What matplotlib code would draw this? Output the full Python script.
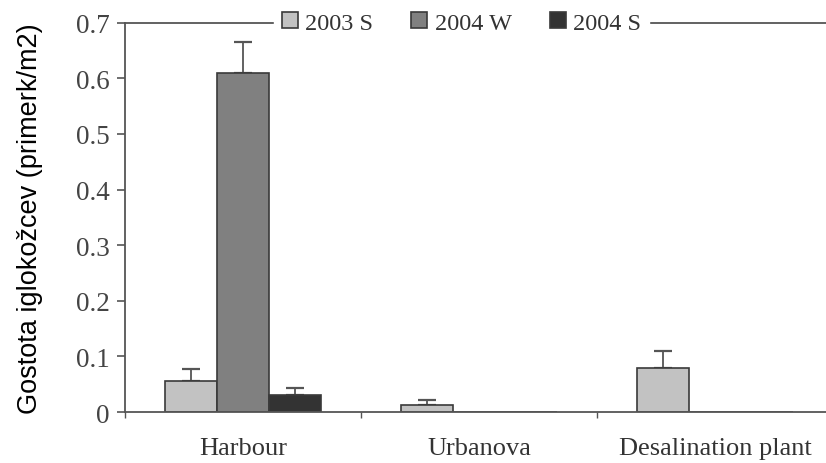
import numpy as np
import matplotlib.pyplot as plt
from matplotlib.patches import Patch

# sea urchin density per site and survey
sites = ["Harbour", "Urbanova", "Desalination plant"]
series = ["2003 S", "2004 W", "2004 S"]
density_2003s = [0.055, 0.012, 0.080]
density_2004w = [0.610, 0.0, 0.0]
density_2004s = [0.030, 0.0, 0.0]
err_2003s = [0.022, 0.009, 0.029]
err_2004w = [0.055, 0.0, 0.0]
err_2004s = [0.013, 0.0, 0.0]
yticks = [0, 0.1, 0.2, 0.3, 0.4, 0.5, 0.6, 0.7]

colors = ["#c2c2c2", "#808080", "#333333"]
edge = "#3a3a3a"
serif = "Liberation Serif"

fig = plt.figure(figsize=(8.26, 4.64), dpi=100)
ax = fig.add_axes([0.1513, 0.1099, 0.8487, 0.839])

x = np.arange(len(sites))
w = 0.22
values = [density_2003s, density_2004w, density_2004s]
errors = [err_2003s, err_2004w, err_2004s]
for i, (vals, errs) in enumerate(zip(values, errors)):
    pos = x + (i - 1) * w
    ax.bar(pos, vals, w, color=colors[i], edgecolor=edge, linewidth=1.2, zorder=2)
    e = np.array(errs)
    v = np.array(vals)
    m = e > 0
    ax.errorbar(pos[m], v[m], yerr=[np.zeros(m.sum()), e[m]], fmt="none",
                ecolor="#555555", elinewidth=1.3, capsize=6.5, capthick=1.6, zorder=1)

ax.set_xlim(-0.5, 2.47)
ax.set_ylim(0, 0.7)
ax.set_yticks(yticks)
ax.set_yticklabels(["0"] + [f"{t:.1f}" for t in yticks[1:]], fontfamily=serif, fontsize=19.5, color="#444444")
ax.set_xticks(x)
ax.set_xticklabels(sites, fontfamily=serif, fontsize=19, color="#333333")
ax.set_xticks([-0.5, 0.5, 1.5], minor=True)
ax.tick_params(axis="x", which="major", length=0, pad=18)
ax.tick_params(axis="x", which="minor", length=4, width=1, color="#555555")
ax.tick_params(axis="y", length=6, width=1.2, color="#555555", pad=5)

for s in ["left", "bottom", "top"]:
    ax.spines[s].set_color("#555555")
    ax.spines[s].set_linewidth(1.3)
ax.spines["right"].set_visible(False)

ax.set_ylabel("Gostota iglokožcev (primerk/m2)", fontfamily="Liberation Sans", fontsize=19.5)
ax.yaxis.set_label_coords(-0.117, 0.5)

handles = [Patch(facecolor=c, edgecolor=edge, linewidth=1.2) for c in colors]
leg = ax.legend(handles, series, loc="center", bbox_to_anchor=(0.48, 1.0), ncol=3,
                prop={"family": serif, "size": 17.5}, handlelength=0.66, handleheight=0.66,
                handletextpad=0.32, columnspacing=1.55, borderpad=0.3,
                frameon=True, fancybox=False, edgecolor="white", framealpha=1)
for t in leg.get_texts():
    t.set_color("#333333")

fig.savefig("out.png", dpi=100)
